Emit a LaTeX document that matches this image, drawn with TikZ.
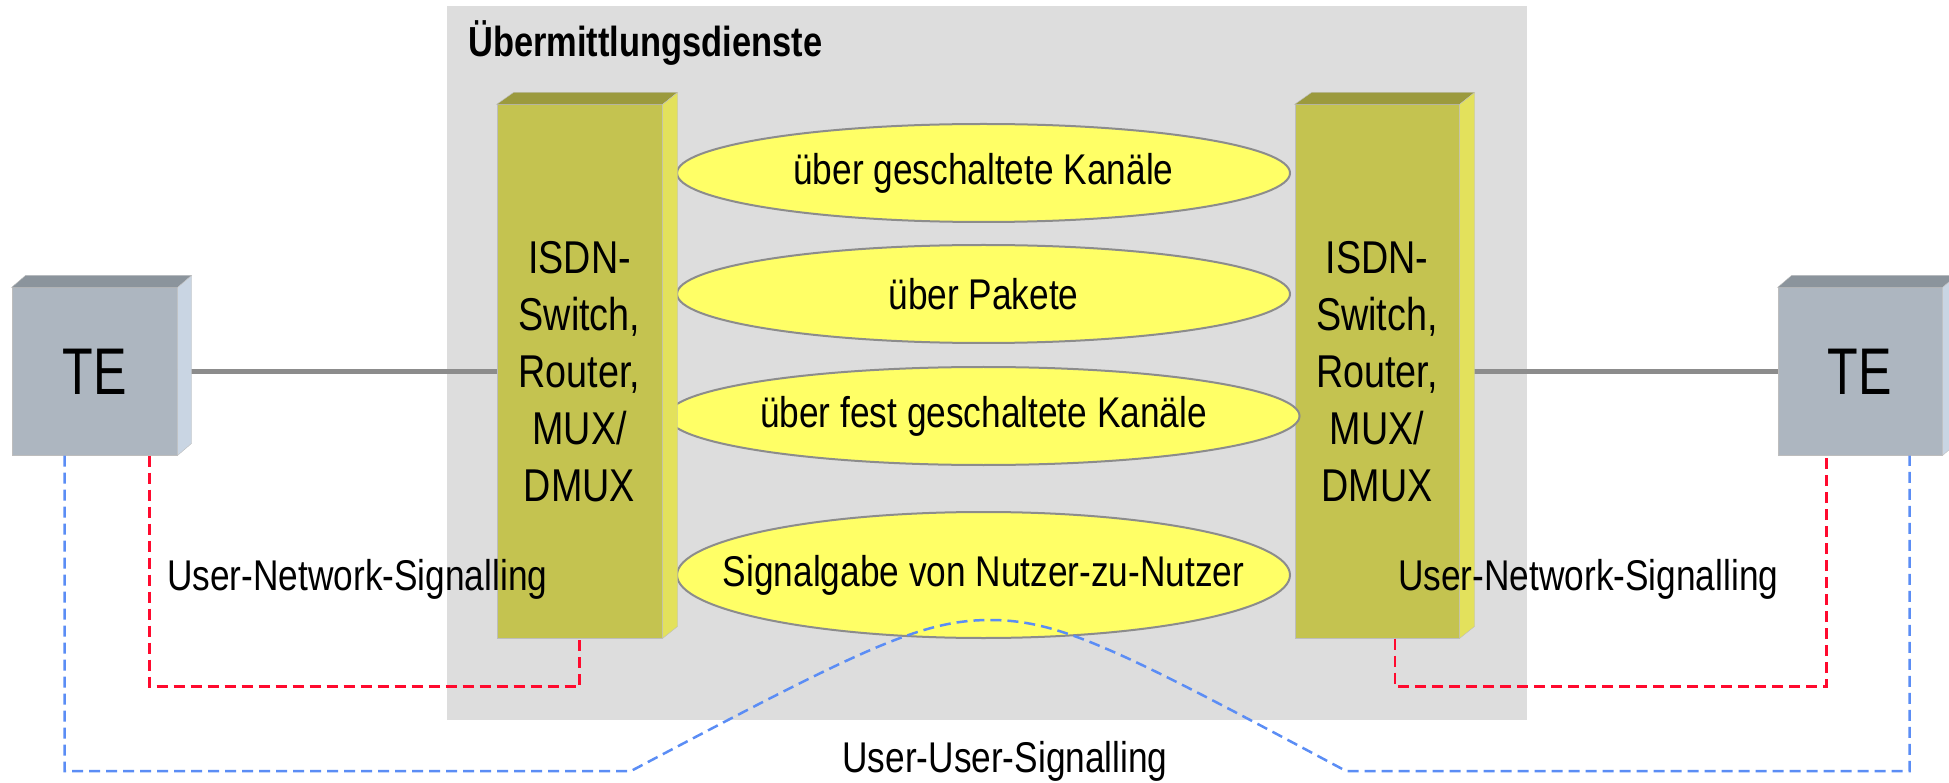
\documentclass[tikz,border=0pt]{standalone}
\usepackage{fontspec}
\setmainfont[FakeStretch=0.82]{Liberation Sans}
\newfontfamily\tefont[FakeStretch=0.76]{Liberation Sans}
\usetikzlibrary{shapes.geometric,positioning}

\definecolor{dienstbg}{HTML}{DDDDDD}
\definecolor{swfront}{HTML}{C4C350}
\definecolor{swtop}{HTML}{9B9A3D}
\definecolor{swside}{HTML}{E3E15C}
\definecolor{tefront}{HTML}{ADB6C0}
\definecolor{tetop}{HTML}{8B949C}
\definecolor{teside}{HTML}{C9D5E3}
\definecolor{edgegray}{HTML}{BDBDBD}
\definecolor{svcyellow}{HTML}{FFFF66}
\definecolor{svcedge}{HTML}{8C8C8C}
\definecolor{trunkgray}{HTML}{8C8C8C}
\definecolor{unred}{HTML}{FF0A2E}
\definecolor{uublue}{HTML}{5B8DF5}

\begin{document}
\begin{tikzpicture}[x=1pt,y=-1pt,
  swbox/.style={rectangle,fill=swfront,draw=edgegray,line width=1pt,inner sep=0pt,
    minimum width=165pt,minimum height=533pt,align=center,font=\fontsize{46}{57}\selectfont},
  tebox/.style={rectangle,fill=tefront,draw=edgegray,line width=1pt,inner sep=0pt,
    minimum width=165pt,minimum height=167pt,font=\tefont\fontsize{66}{70}\selectfont},
  svc/.style={ellipse,fill=svcyellow,draw=svcedge,line width=2pt,inner sep=0pt,
    minimum width=613pt,minimum height=98pt,font=\fontsize{43}{50}\selectfont},
  lbl/.style={inner sep=0pt,font=\fontsize{43}{50}\selectfont},
  trunk/.style={draw=trunkgray,line width=5pt},
  unsig/.style={draw=unred,line width=2.5pt,dash pattern=on 11pt off 6pt},
  uusig/.style={draw=uublue,line width=2.5pt,dash pattern=on 11pt off 6pt}]
\useasboundingbox (0,0) rectangle (1949,783);
\fill[dienstbg] (447,6) rectangle (1527,720);
\node[anchor=base west,inner sep=0pt,font=\bfseries\fontsize{42}{48}\selectfont] (title) at (468,57) {Übermittlungsdienste};

% end devices and switches
\node[tebox] (te1) at (94.5,371.5) {TE};
\node[tebox,minimum width=164pt] (te2) at (1860,371.5) {TE};
\node[swbox] (sw1) at (579.5,371.5) {ISDN-\\Switch,\\Router,\\MUX/\\DMUX};
\node[swbox,minimum width=164pt] (sw2) at (1377,371.5) {ISDN-\\Switch,\\Router,\\MUX/\\DMUX};

% services
\node[svc] (e1) at (983.5,173) {über geschaltete Kanäle};
\node[svc] (e2) at (983.5,294) {über Pakete};
\node[svc] (e3) at (983.5,416) {über fest geschaltete Kanäle};
\node[svc,minimum height=126pt] (e4) at (983.5,575) {\makebox[0pt]{\raisebox{8pt}{Signalgabe von Nutzer-zu-Nutzer}}};

\draw[trunk] (te1.east) -- (sw1.west);
\draw[trunk] (sw2.east) -- (te2.west);

% cube faces
\filldraw[fill=tetop,draw=edgegray] (te1.north west) -- ++(14,-12) -- ([shift={(14,-12)}]te1.north east) -- (te1.north east) -- cycle;
\filldraw[fill=teside,draw=edgegray] (te1.north east) -- ++(14,-12) -- ([shift={(14,-12)}]te1.south east) -- (te1.south east) -- cycle;
\filldraw[fill=tetop,draw=edgegray] (te2.north west) -- ++(14,-12) -- ([shift={(14,-12)}]te2.north east) -- (te2.north east) -- cycle;
\filldraw[fill=teside,draw=edgegray] (te2.north east) -- ++(14,-12) -- ([shift={(14,-12)}]te2.south east) -- (te2.south east) -- cycle;
\filldraw[fill=swtop,draw=edgegray] (sw1.north west) -- ++(17,-12) -- ([shift={(15,-12)}]sw1.north east) -- (sw1.north east) -- cycle;
\filldraw[fill=swside,draw=edgegray] (sw1.north east) -- ++(15,-12) -- ([shift={(15,-12)}]sw1.south east) -- (sw1.south east) -- cycle;
\filldraw[fill=swtop,draw=edgegray] (sw2.north west) -- ++(17,-12) -- ([shift={(15,-12)}]sw2.north east) -- (sw2.north east) -- cycle;
\filldraw[fill=swside,draw=edgegray] (sw2.north east) -- ++(15,-12) -- ([shift={(15,-12)}]sw2.south east) -- (sw2.south east) -- cycle;

\node[lbl,anchor=base west] (un1) at (167,590) {User-Network-Signalling};
\node[lbl,anchor=base west] (un2) at (1398,590) {User-Network-Signalling};
\node[lbl,anchor=base] (uu) at (1005,772) {User-User-Signalling};

% signalling paths
\coordinate (ul) at (631,771);
\coordinate (top) at (990,620);
\coordinate (ur) at (1346,771);
\draw[unsig] ([xshift=-28pt]te1.south east) |- ([yshift=-48pt]sw1.south) -- (sw1.south);
\draw[unsig] ([xshift=18pt]sw2.south) -- ++(0,48) -| ([xshift=49pt]te2.south west);
\draw[uusig] ([xshift=53pt]te1.south west) |- (ul) .. controls +(229,-121) and +(-70,0) .. (top)
  .. controls +(70,0) and +(-226,-121) .. (ur) -| ([xshift=132pt]te2.south west);
\end{tikzpicture}
\end{document}
